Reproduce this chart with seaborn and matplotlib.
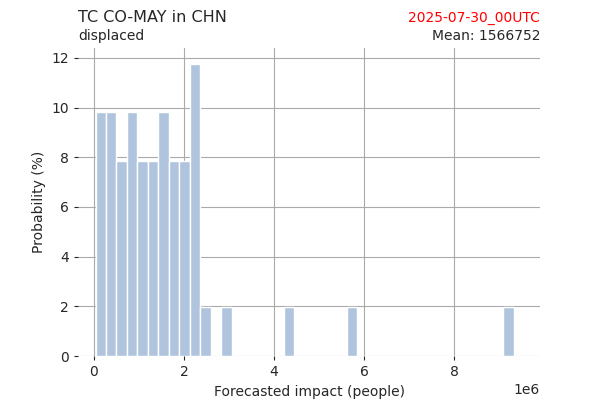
import numpy as np
import pandas as pd
import matplotlib
matplotlib.use("Agg")
import matplotlib.pyplot as plt
import seaborn as sns

# ensemble member impacts (people)
bin_lo = 0.04e6
bin_hi = 9.32e6
n_bins = 40
bin_index = [0, 1, 2, 3, 4, 5, 6, 7, 8, 9, 10, 12, 18, 24, 39]
member_counts = [5, 5, 4, 5, 4, 4, 5, 4, 4, 6, 1, 1, 1, 1, 1]
mean_impact = 1566752

w = (bin_hi - bin_lo) / n_bins
values = np.repeat([bin_lo + (i + 0.5) * w for i in bin_index], member_counts)
df = pd.DataFrame({"impact": values})
df["weight"] = 100.0 / len(df)

sns.set_style("white")
fig, ax = plt.subplots(figsize=(6, 4), dpi=100)
sns.histplot(data=df, x="impact", weights="weight", bins=n_bins,
             binrange=(bin_lo, bin_hi),
             color="lightsteelblue", edgecolor="white", linewidth=1,
             alpha=1, ax=ax, zorder=3)
ax.grid(True, color="#aaaaaa", linewidth=0.8, zorder=0)
ax.set_axisbelow(True)
for s in ax.spines.values():
    s.set_visible(False)
ax.set_xlim(-0.35e6, 9.9e6)
ax.set_ylim(0, 12.4)
ax.set_xlabel("Forecasted impact (people)")
ax.set_ylabel("Probability (%)")
ax.tick_params(left=True, bottom=True, length=3)
fig.text(0.13, 0.945, "TC CO-MAY in CHN", fontsize=11.5, ha="left")
fig.text(0.9, 0.945, "2025-07-30_00UTC", fontsize=10, color="red", ha="right")
ax.set_title("displaced", loc="left", fontsize=10)
ax.set_title(f"Mean: {mean_impact}", loc="right", fontsize=10)
fig.subplots_adjust(left=0.13, right=0.9, top=0.88, bottom=0.11)
fig.savefig("out.png")
